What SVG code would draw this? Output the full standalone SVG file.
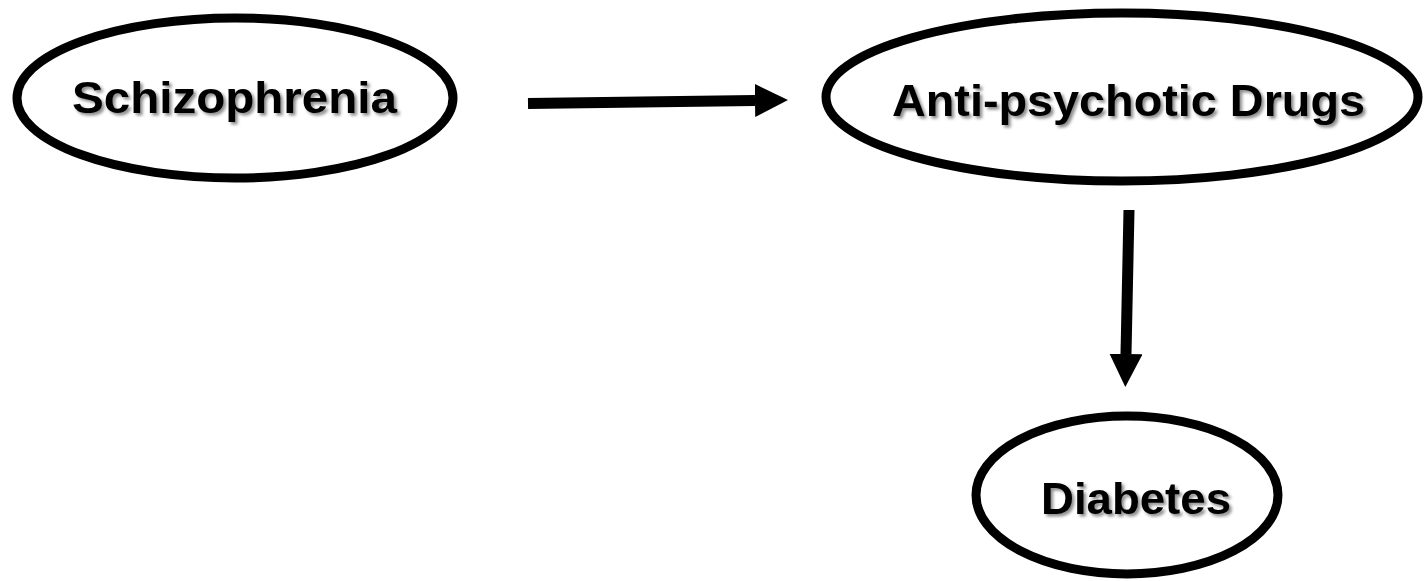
<svg xmlns="http://www.w3.org/2000/svg" width="1425" height="581" viewBox="0 0 1425 581">
  <defs>
    <filter id="soft-shadow" x="-10%" y="-20%" width="120%" height="150%">
      <feDropShadow dx="2.5" dy="2.5" stdDeviation="1.6" flood-color="#000" flood-opacity="0.45"/>
    </filter>
    <marker id="head" viewBox="0 0 10 10" refX="0" refY="5" markerWidth="3" markerHeight="3" markerUnits="strokeWidth" orient="auto">
      <path d="M0,0 L10,5 L0,10 Z" fill="#000"/>
    </marker>
  </defs>
  <style>
    .node ellipse { fill: #fff; stroke: #000; stroke-width: 9; }
    .node text { font-family: "Liberation Sans", Arial, sans-serif; font-weight: bold; font-size: 44px; fill: #000; text-anchor: middle; filter: url(#soft-shadow); }
    .edge { stroke: #000; stroke-width: 11; fill: none; }
  </style>
  <rect width="1425" height="581" fill="#fff"/>

  <g id="schizophrenia" class="node">
    <ellipse cx="235" cy="98" rx="218" ry="80"/>
    <text x="234.5" y="113" textLength="325" lengthAdjust="spacingAndGlyphs">Schizophrenia</text>
  </g>

  <g id="antipsychotic-drugs" class="node">
    <ellipse cx="1122" cy="97" rx="296" ry="84"/>
    <text x="1128.5" y="116" textLength="473" lengthAdjust="spacingAndGlyphs">Anti-psychotic Drugs</text>
  </g>

  <g id="diabetes" class="node">
    <ellipse cx="1127" cy="495" rx="151" ry="79"/>
    <text x="1136" y="514" textLength="190" lengthAdjust="spacingAndGlyphs">Diabetes</text>
  </g>

  <g id="connectors">
    <line class="edge" x1="528" y1="103.5" x2="755" y2="100.5" marker-end="url(#head)"/>
    <line class="edge" x1="1129" y1="210" x2="1126" y2="354" marker-end="url(#head)"/>
  </g>
</svg>
